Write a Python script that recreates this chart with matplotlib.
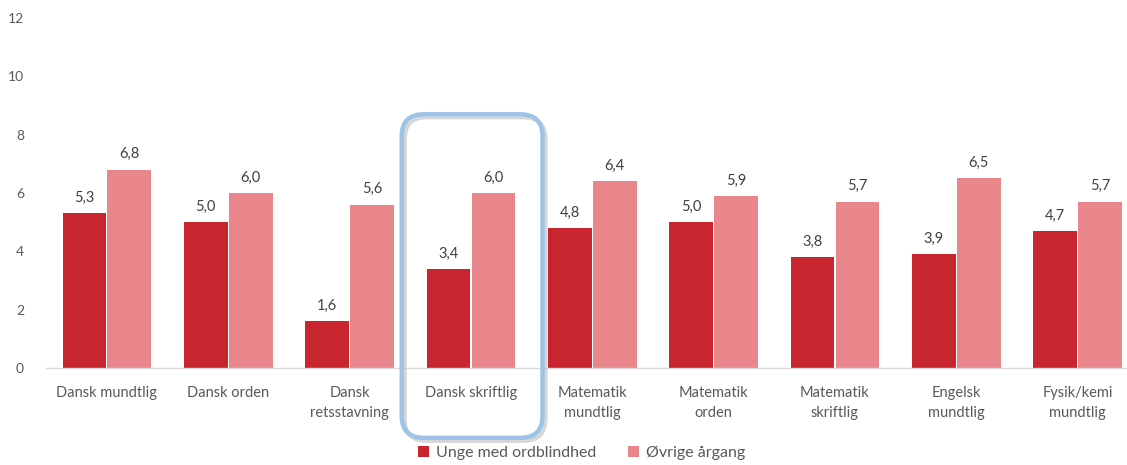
import matplotlib
matplotlib.use("Agg")
import matplotlib.pyplot as plt
import numpy as np
from matplotlib.patches import FancyBboxPatch

# ──── DATA ───────────────────────────────────────────────────────────────────

subjects = [
    "Dansk mundtlig",
    "Dansk orden",
    "Dansk\nretsstavning",
    "Dansk skriftlig",
    "Matematik\nmundtlig",
    "Matematik\norden",
    "Matematik\nskriftlig",
    "Engelsk\nmundtlig",
    "Fysik/kemi\nmundtlig",
]
ordblinde = [5.3, 5.0, 1.6, 3.4, 4.8, 5.0, 3.8, 3.9, 4.7]
oevrige = [6.8, 6.0, 5.6, 6.0, 6.4, 5.9, 5.7, 6.5, 5.7]
series_names = ["Unge med ordblindhed", "Øvrige årgang"]
yticks = [0, 2, 4, 6, 8, 10, 12]
highlight = "Dansk skriftlig"

# ──── PLOT SETTINGS ──────────────────────────────────────────────────────────

plt.rcParams.update(
    {
        "font.family": ["Lato", "DejaVu Sans"],
        "font.size": 10.5,
        "text.color": "#404040",
    }
)
dark_red = "#C9252F"
light_red = "#E8868B"
label_grey = "#595959"

fig = plt.figure(figsize=(11.27, 4.65), dpi=100)
ax = fig.add_axes([0.041, 0.209, 0.969, 0.752])

x = np.arange(len(subjects))
w = 0.36
b1 = ax.bar(x - w / 2 - 0.005, ordblinde, width=w, color=dark_red, label=series_names[0])
b2 = ax.bar(x + w / 2 + 0.005, oevrige, width=w, color=light_red, label=series_names[1])

# value labels above every bar, with decimal comma
for bars, vals in [(b1, ordblinde), (b2, oevrige)]:
    for rect, v in zip(bars, vals):
        ax.annotate(
            f"{v:.1f}".replace(".", ","),
            (rect.get_x() + rect.get_width() / 2, v),
            xytext=(0, 6),
            textcoords="offset points",
            ha="center",
            va="bottom",
            color="#404040",
            fontsize=10.5,
        )

ax.set_xlim(-0.5, len(subjects) - 0.5)
ax.set_ylim(0, 12)
ax.set_yticks(yticks)
ax.set_yticklabels([str(t) for t in yticks], color=label_grey, fontsize=10)
ax.set_xticks(x)
ax.set_xticklabels(subjects, color=label_grey, fontsize=10.5, linespacing=1.6)
ax.tick_params(axis="both", length=0)
ax.tick_params(axis="y", pad=16)
ax.tick_params(axis="x", pad=13)
for side in ["left", "right", "top"]:
    ax.spines[side].set_visible(False)
ax.spines["bottom"].set_color("#D9D9D9")
ax.spines["bottom"].set_linewidth(1.0)

leg = fig.legend(
    loc="center",
    bbox_to_anchor=(0.516, 0.026),
    ncol=2,
    frameon=False,
    handlelength=0.7,
    handleheight=0.7,
    handletextpad=0.4,
    columnspacing=2.0,
    fontsize=11.5,
)
for t in leg.get_texts():
    t.set_color(label_grey)

# rounded frame around the highlighted subject, placed in pixel space
hi = subjects.index(highlight)
x0, y0 = ax.transData.transform((hi - 0.57, 0))
x1, _ = ax.transData.transform((hi + 0.59, 0))
_, y1 = ax.transData.transform((0, 8.7))
y0 = y0 - 70
shadow = FancyBboxPatch(
    (x0 + 3, y0 - 3), x1 - x0, y1 - y0,
    boxstyle="round,pad=0,rounding_size=22",
    facecolor="none", edgecolor="#B0B0B0", linewidth=3, alpha=0.5,
    transform=None,
)
frame = FancyBboxPatch(
    (x0, y0), x1 - x0, y1 - y0,
    boxstyle="round,pad=0,rounding_size=22",
    facecolor="none", edgecolor="#9DC3E6", linewidth=3.2,
    transform=None,
)
fig.add_artist(shadow)
fig.add_artist(frame)

fig.savefig("out.png", dpi=100)
